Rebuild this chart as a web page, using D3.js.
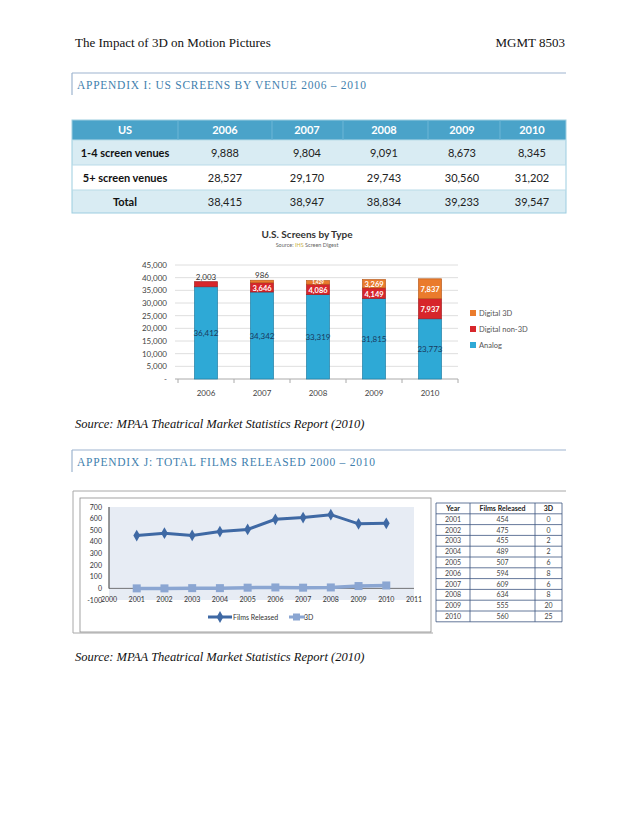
<!DOCTYPE html>
<html><head><meta charset="utf-8">
<script src="https://cdn.jsdelivr.net/npm/d3@7"></script>
<style>
html,body{margin:0;padding:0;background:#fff;}
svg{display:block;}
</style></head>
<body>
<script>
// ---------- DATA ----------
const venueYears = ["2006","2007","2008","2009","2010"];
const venueRowLabels = ["1-4 screen venues","5+ screen venues","Total"];
const smallVenues = [9888, 9804, 9091, 8673, 8345];
const largeVenues = [28527, 29170, 29743, 30560, 31202];
const totalVenues = [38415, 38947, 38834, 39233, 39547];

const screenYears = ["2006","2007","2008","2009","2010"];
const analogScreens = [36412, 34342, 33319, 31815, 23773];
const digitalNon3D = [2003, 3646, 4086, 4149, 7937];
const digital3D = [0, 986, 1429, 3269, 7837];
const screenSeries = ["Analog","Digital non-3D","Digital 3D"];
const screenTicks = [0,5000,10000,15000,20000,25000,30000,35000,40000,45000];

const filmYears = [2001,2002,2003,2004,2005,2006,2007,2008,2009,2010];
const filmsReleased = [454,475,455,489,507,594,609,634,555,560];
const films3D = [0,0,2,2,6,8,6,8,20,25];
const filmXTicks = [2000,2001,2002,2003,2004,2005,2006,2007,2008,2009,2010,2011];
const filmYTicks = [-100,0,100,200,300,400,500,600,700];

// ---------- PAGE ----------
const W = 638, H = 826;
const svg = d3.select("body").append("svg").attr("width", W).attr("height", H);
const serif = "'Liberation Serif','Times New Roman',serif";
const sans = "Lato,'Open Sans',sans-serif";
const fmt = d3.format(",");

svg.append("text").attr("x",75).attr("y",47).attr("font-family",serif).attr("font-size",13).attr("fill","#111")
  .text("The Impact of 3D on Motion Pictures");
svg.append("text").attr("x",565).attr("y",47).attr("text-anchor","end").attr("font-family",serif).attr("font-size",13).attr("fill","#111")
  .text("MGMT 8503");

function appendixHeader(y, text, len){
  svg.append("line").attr("x1",72).attr("x2",566).attr("y1",y).attr("y2",y).attr("stroke","#9db4cf").attr("stroke-width",1.2);
  svg.append("line").attr("x1",72).attr("x2",72).attr("y1",y).attr("y2",y+22).attr("stroke","#9db4cf").attr("stroke-width",1.2);
  svg.append("text").attr("x",77).attr("y",y+16).attr("font-family",serif).attr("font-size",11.5).attr("fill","#3f7fae")
    .attr("textLength",len).attr("lengthAdjust","spacing").text(text);
}
appendixHeader(73, "APPENDIX I: US SCREENS BY VENUE 2006 – 2010", 289);
appendixHeader(450, "APPENDIX J: TOTAL FILMS RELEASED 2000 – 2010", 298);

// ---------- VENUE TABLE ----------
(function(){
  const x0 = 72, x1 = 566;
  const colEdges = [72,178,272,343,428,500,566];
  const colCenters = [125,225,307,384,462,532];
  const rowTops = [120,140,165,190,213];
  const g = svg.append("g");
  g.append("rect").attr("x",x0).attr("y",rowTops[0]).attr("width",x1-x0).attr("height",rowTops[1]-rowTops[0]).attr("fill","#4aa3c9");
  const rowFill = ["#d9ecf3","#ffffff","#d9ecf3"];
  const rowVals = [smallVenues, largeVenues, totalVenues];
  rowVals.forEach((vals,i)=>{
    g.append("rect").attr("x",x0).attr("y",rowTops[i+1]).attr("width",x1-x0).attr("height",rowTops[i+2]-rowTops[i+1]).attr("fill",rowFill[i]);
  });
  g.append("rect").attr("x",x0).attr("y",rowTops[0]).attr("width",x1-x0).attr("height",rowTops[4]-rowTops[0])
    .attr("fill","none").attr("stroke","#9ccde0").attr("stroke-width",1);
  rowTops.slice(1,4).forEach(y=>g.append("line").attr("x1",x0).attr("x2",x1).attr("y1",y).attr("y2",y).attr("stroke","#b9dbe8"));
  colEdges.slice(1,6).forEach(x=>g.append("line").attr("x1",x).attr("x2",x).attr("y1",rowTops[0]).attr("y2",rowTops[1]).attr("stroke","#6db6d6"));
  const headers = ["US"].concat(venueYears);
  g.selectAll(".hd").data(headers).enter().append("text")
    .attr("x",(d,i)=>colCenters[i]).attr("y",134).attr("text-anchor","middle")
    .attr("font-family",sans).attr("font-weight","bold").attr("font-size",11).attr("fill","#fff").text(d=>d);
  rowVals.forEach((vals,i)=>{
    const yb = (rowTops[i+1]+rowTops[i+2])/2 + 4;
    g.append("text").attr("x",colCenters[0]).attr("y",yb).attr("text-anchor","middle").attr("font-family",sans)
      .attr("font-weight","bold").attr("font-size",11).attr("fill","#111").text(venueRowLabels[i]);
    g.selectAll(null).data(vals).enter().append("text")
      .attr("x",(d,j)=>colCenters[j+1]).attr("y",yb).attr("text-anchor","middle").attr("font-family",sans)
      .attr("font-size",11).attr("fill","#222").text(d=>fmt(d));
  });
})();

// ---------- STACKED BAR CHART ----------
(function(){
  const g = svg.append("g");
  const x = d3.scaleBand().domain(screenYears).range([178,458]).paddingInner(0.59).paddingOuter(0.295);
  const y = d3.scaleLinear().domain([0,45000]).range([379,265]);
  g.append("text").attr("x",307).attr("y",238).attr("text-anchor","middle").attr("font-family",sans)
    .attr("font-weight","bold").attr("font-size",10).attr("fill","#333").text("U.S.  Screens by Type");
  const src = g.append("text").attr("x",307).attr("y",247).attr("text-anchor","middle").attr("font-family",sans)
    .attr("font-size",5.5).attr("fill","#666");
  src.append("tspan").text("Source:  ");
  src.append("tspan").attr("fill","#c9b24a").text("IHS");
  src.append("tspan").text(" Screen Digest");
  g.selectAll(".grid").data(screenTicks.slice(1)).enter().append("line")
    .attr("x1",175).attr("x2",458).attr("y1",d=>y(d)).attr("y2",d=>y(d)).attr("stroke","#d6d6d6").attr("stroke-width",0.8);
  g.append("line").attr("x1",175).attr("x2",458).attr("y1",y(0)).attr("y2",y(0)).attr("stroke","#aaa");
  const stepEdges = d3.range(6).map(i=>178 + i*x.step());
  g.selectAll(".xt").data(stepEdges).enter().append("line")
    .attr("x1",d=>d).attr("x2",d=>d).attr("y1",y(0)).attr("y2",y(0)+4).attr("stroke","#aaa");
  g.selectAll(".yl").data(screenTicks).enter().append("text")
    .attr("x",167).attr("y",d=>y(d)+3).attr("text-anchor","end").attr("font-family",sans).attr("font-size",8)
    .attr("fill","#444").text(d=>d===0?"-":fmt(d));
  g.selectAll(".xl").data(screenYears).enter().append("text")
    .attr("x",d=>x(d)+x.bandwidth()/2).attr("y",396).attr("text-anchor","middle").attr("font-family",sans)
    .attr("font-size",8).attr("fill","#444").text(d=>d);
  const rows = screenYears.map((yr,i)=>({year:yr,"Analog":analogScreens[i],"Digital non-3D":digitalNon3D[i],"Digital 3D":digital3D[i]}));
  const stack = d3.stack().keys(screenSeries)(rows);
  const colors = {"Analog":"#2ea9d6","Digital non-3D":"#d7262b","Digital 3D":"#ea7b2c"};
  const edge = {"Analog":"#1d7ea6","Digital non-3D":"#a51d20","Digital 3D":"#b85b1c"};
  stack.forEach(layer=>{
    g.selectAll(null).data(layer).enter().append("rect")
      .attr("x",d=>x(d.data.year)).attr("width",x.bandwidth())
      .attr("y",d=>y(d[1])).attr("height",d=>Math.max(0,y(d[0])-y(d[1])))
      .attr("fill",colors[layer.key]).attr("stroke",edge[layer.key]).attr("stroke-width",0.7);
  });
  stack.forEach(layer=>{
    layer.forEach((d,i)=>{
      const v = d[1]-d[0];
      if(v<=0) return;
      const cx = x(d.data.year)+x.bandwidth()/2;
      const h = y(d[0])-y(d[1]);
      let ty, col, fw = "bold", fs = 7.5;
      if(layer.key==="Analog"){ ty = y((d[0]+d[1])/2)+3; col="#1a3a5e"; fw="normal"; fs=8; }
      else if(v<1000 || (layer.key==="Digital non-3D" && i===0)){ ty = y(d[1])-2; col="#333"; fw="normal"; fs=8; }
      else if(h<6){ ty = y(d[0])-0.6; col="#fff"; fs=4.6; }
      else { ty = y((d[0]+d[1])/2)+3.4; col="#fff"; }
      g.append("text").attr("x",cx).attr("y",ty).attr("text-anchor","middle").attr("font-family",sans)
        .attr("font-size",fs).attr("font-weight",fw).attr("fill",col).text(fmt(v));
    });
  });
  const legend = screenSeries.slice().reverse();
  legend.forEach((k,i)=>{
    const ly = 315 + i*16;
    g.append("rect").attr("x",470).attr("y",ly-5).attr("width",6).attr("height",6).attr("fill",colors[k]);
    g.append("text").attr("x",479).attr("y",ly+1).attr("font-family",sans).attr("font-size",7.5).attr("fill","#555").text(k);
  });
})();

svg.append("text").attr("x",75).attr("y",428).attr("font-family",serif).attr("font-style","italic").attr("font-size",12.5)
  .attr("fill","#111").text("Source: MPAA Theatrical Market Statistics Report (2010)");
svg.append("text").attr("x",75).attr("y",661).attr("font-family",serif).attr("font-style","italic").attr("font-size",12.5)
  .attr("fill","#111").text("Source: MPAA Theatrical Market Statistics Report (2010)");

// ---------- LINE CHART ----------
(function(){
  const g = svg.append("g");
  g.append("line").attr("x1",73).attr("x2",566).attr("y1",491).attr("y2",491).attr("stroke","#a8a8a8");
  g.append("line").attr("x1",73).attr("x2",73).attr("y1",491).attr("y2",633).attr("stroke","#a8a8a8");
  g.append("line").attr("x1",73).attr("x2",433).attr("y1",633).attr("y2",633).attr("stroke","#a8a8a8");
  g.append("rect").attr("x",80).attr("y",498).attr("width",351).attr("height",134).attr("fill","#fff").attr("stroke","#8c8c8c").attr("stroke-width",0.8);
  const x = d3.scaleLinear().domain([2000,2011]).range([109,414]);
  const y = d3.scaleLinear().domain([-100,700]).range([600,507]);
  g.append("rect").attr("x",x(2000)).attr("y",y(700)).attr("width",x(2011)-x(2000)).attr("height",y(-100)-y(700)).attr("fill","#e7ecf4");
  g.append("line").attr("x1",x(2000)).attr("x2",x(2000)).attr("y1",y(700)).attr("y2",y(0)).attr("stroke","#555").attr("stroke-width",1.2);
  g.append("line").attr("x1",x(2000)).attr("x2",x(2011)).attr("y1",y(0)).attr("y2",y(0)).attr("stroke","#555").attr("stroke-width",0.8);
  g.selectAll(".yl").data(filmYTicks).enter().append("text").attr("x",102).attr("y",d=>y(d)+2.5).attr("text-anchor","end")
    .attr("font-family",sans).attr("font-size",7).attr("fill","#333").text(d=>d);
  g.selectAll(".xl").data(filmXTicks).enter().append("text").attr("x",d=>x(d)).attr("y",602).attr("text-anchor","middle")
    .attr("font-family",sans).attr("font-size",7).attr("fill","#333").text(d=>d);
  const pts3 = filmYears.map((yr,i)=>[yr,films3D[i]]);
  const ptsF = filmYears.map((yr,i)=>[yr,filmsReleased[i]]);
  const line = d3.line().x(d=>x(d[0])).y(d=>y(d[1]));
  const c3 = "#8ba6d2", cF = "#3f69a4";
  g.append("path").datum(pts3).attr("d",line).attr("fill","none").attr("stroke",c3).attr("stroke-width",3.5);
  g.selectAll(".sq").data(pts3).enter().append("rect").attr("x",d=>x(d[0])-4).attr("y",d=>y(d[1])-4).attr("width",8).attr("height",8).attr("fill",c3);
  g.append("path").datum(ptsF).attr("d",line).attr("fill","none").attr("stroke",cF).attr("stroke-width",3);
  const diamond = d3.symbol().type(d3.symbolDiamond).size(40);
  g.selectAll(".dm").data(ptsF).enter().append("path").attr("d",diamond)
    .attr("transform",d=>`translate(${x(d[0])},${y(d[1])})`).attr("fill",cF);
  g.append("line").attr("x1",208).attr("x2",232).attr("y1",617).attr("y2",617).attr("stroke",cF).attr("stroke-width",3);
  g.append("path").attr("d",diamond).attr("transform","translate(220,617)").attr("fill",cF);
  g.append("text").attr("x",233).attr("y",619.5).attr("font-family",sans).attr("font-size",7).attr("fill","#333").text("Films Released");
  g.append("line").attr("x1",289).attr("x2",305).attr("y1",617).attr("y2",617).attr("stroke",c3).attr("stroke-width",3);
  g.append("rect").attr("x",293).attr("y",613.5).attr("width",7).attr("height",7).attr("fill",c3);
  g.append("text").attr("x",304).attr("y",619.5).attr("font-family",sans).attr("font-size",7).attr("fill","#333").text("3D");
})();

// ---------- FILMS TABLE ----------
(function(){
  const g = svg.append("g");
  const cols = [436,470,535,562];
  const top = 503, rh = 10.8;
  const rows = [["Year","Films Released","3D"]].concat(filmYears.map((yr,i)=>[yr,filmsReleased[i],films3D[i]]));
  rows.forEach((r,i)=>{
    r.forEach((v,j)=>{
      g.append("text").attr("x",(cols[j]+cols[j+1])/2).attr("y",top+i*rh+8).attr("text-anchor","middle")
        .attr("font-family",sans).attr("font-size",7).attr("font-weight",i===0?"bold":"normal").attr("fill",i===0?"#222":"#444").text(v);
    });
  });
  d3.range(rows.length+1).forEach(i=>g.append("line").attr("x1",cols[0]).attr("x2",cols[3]).attr("y1",top+i*rh).attr("y2",top+i*rh)
    .attr("stroke","#3d5580").attr("stroke-width",0.8));
  cols.forEach(c=>g.append("line").attr("x1",c).attr("x2",c).attr("y1",top).attr("y2",top+rows.length*rh)
    .attr("stroke","#3d5580").attr("stroke-width",0.8));
})();
</script>
</body></html>
